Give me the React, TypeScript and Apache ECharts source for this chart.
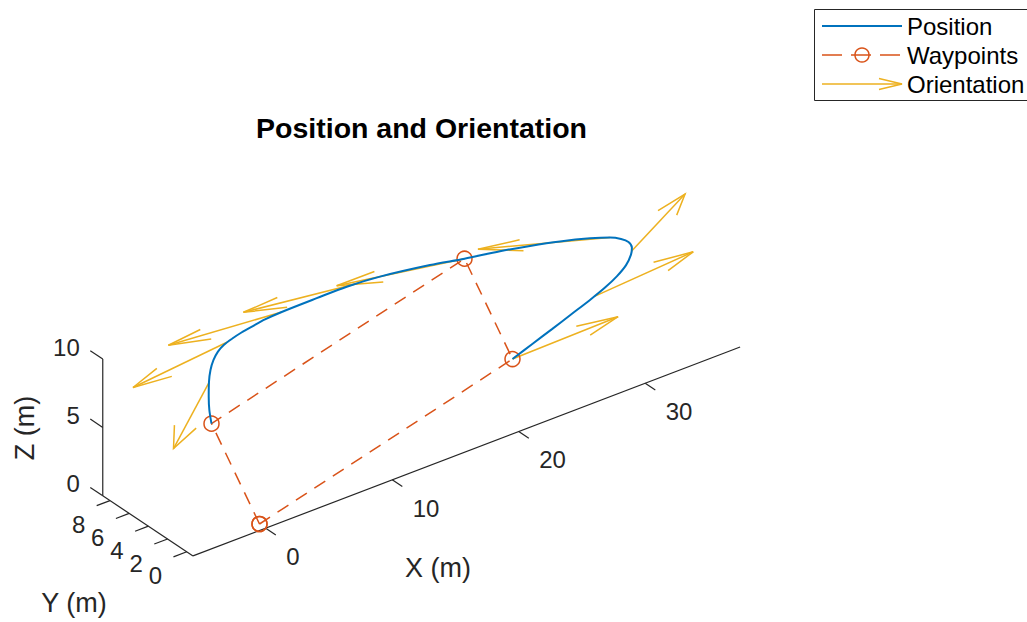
import React, { useEffect, useRef } from "react";
import * as echarts from "echarts";

// ---------- data ----------
const TITLE = "Position and Orientation";
const X_LABEL = "X (m)";
const Y_LABEL = "Y (m)";
const Z_LABEL = "Z (m)";
const LEGEND_NAMES = ["Position", "Waypoints", "Orientation"];

const X_TICKS = [0, 10, 20, 30];
const Y_TICKS = [0, 2, 4, 6, 8];
const Z_TICKS = [0, 5, 10];
const X_LIM = [-5.75, 37.5];
const Y_LIM = [-0.65, 8.75];
const Z_LIM = [0, 10];

// waypoints (x, y, z), drawn as a closed dashed loop
const WAYPOINTS = [
  [0, 0, 0],
  [0, 5, 5],
  [20, 5, 10],
  [20, 0, 5],
  [0, 0, 0],
];

// sampled trajectory (x, y, z)
const POSITION = [
  [0, 5, 5],
  [-0.17, 5, 6.06],
  [-0.22, 5, 7.05],
  [-0.2, 5, 8.12],
  [-0.08, 5, 8.95],
  [0.16, 5, 9.6],
  [0.51, 5, 10.09],
  [0.99, 5, 10.42],
  [1.62, 5, 10.64],
  [2.37, 5, 10.83],
  [3.2, 5, 10.97],
  [4.23, 5, 11.13],
  [5.55, 5, 11.21],
  [8.32, 5, 11.24],
  [10.69, 5, 11.24],
  [13.32, 5, 11.05],
  [17.27, 5, 10.5],
  [20, 5, 10],
  [22.58, 4.71, 9.77],
  [24.73, 4.41, 9.54],
  [26.88, 4.12, 9.24],
  [29.03, 3.82, 8.85],
  [30.39, 3.53, 8.57],
  [31.04, 3.24, 8.37],
  [31.4, 2.94, 8.16],
  [31.45, 2.65, 7.86],
  [31.15, 2.35, 7.6],
  [30.54, 2.06, 7.18],
  [29.6, 1.76, 6.85],
  [28.43, 1.47, 6.56],
  [27.02, 1.18, 6.29],
  [25.37, 0.88, 6.0],
  [23.57, 0.59, 5.65],
  [21.76, 0.29, 5.33],
  [20, 0, 5],
];

// orientation arrows: base point and direction (x, y, z)
const ORIENT_BASE = [
  [-0.18, 5, 8.1],
  [1.3, 5, 10.53],
  [5.55, 5, 11.21],
  [11.82, 5, 11.15],
  [20, 5, 10],
  [30.39, 3.53, 8.57],
  [31.3, 2.5, 7.73],
  [27.51, 1.3, 6.34],
  [20, 0, 5],
];
const ORIENT_DIR = [
  [-6.8, -5.24, 0],
  [-8.22, -0.94, 0],
  [-8.21, 0.99, 0],
  [-8.16, 1.5, 0],
  [-8.46, 2.17, 0],
  [-7.52, 3.85, 0],
  [7.0, 3.64, 0],
  [8.28, 0.68, 0],
  [8.5, 0.2, 0],
];

// ---------- view (orthographic projection of the 3-D axes) ----------
const ORIGIN = [259.5, 524];
const UX = [12.65, -4.83];
const UY = [-9.6, -6.4];
const UZ = [0, -13.67];
const proj = (p: number[]) => [
  ORIGIN[0] + p[0] * UX[0] + p[1] * UY[0] + p[2] * UZ[0],
  ORIGIN[1] + p[0] * UX[1] + p[1] * UY[1] + p[2] * UZ[1],
];

const HEAD_ALPHA = 0.33;
const HEAD_BETA = 0.25;

const FONT = "'Liberation Sans', Arial, Helvetica, sans-serif";
const AX_COLOR = "#262626";
const C_POS = "#0072BD";
const C_WP = "#D95319";
const C_OR = "#EDB120";

export default function App() {
  const ref = useRef<HTMLDivElement>(null);

  useEffect(() => {
    document.body.style.margin = "0";
    const chart = echarts.init(ref.current!, null, {
      renderer: "svg",
      width: 1027,
      height: 622,
    });

    const axisSegments = [
      [[X_LIM[0], Y_LIM[0], Z_LIM[0]], [X_LIM[1], Y_LIM[0], Z_LIM[0]]],
      [[X_LIM[0], Y_LIM[0], Z_LIM[0]], [X_LIM[0], Y_LIM[1], Z_LIM[0]]],
      [[X_LIM[0], Y_LIM[1], Z_LIM[0]], [X_LIM[0], Y_LIM[1], Z_LIM[1]]],
    ];

    const tickData: number[][] = [
      ...X_TICKS.map((v) => [0, v]),
      ...Y_TICKS.map((v) => [1, v]),
      ...Z_TICKS.map((v) => [2, v]),
    ];

    const textStyle = (extra: any) => ({
      fill: AX_COLOR,
      fontFamily: FONT,
      fontSize: 24,
      ...extra,
    });

    const option: any = {
      animation: false,
      backgroundColor: "#ffffff",
      grid: { left: 0, top: 0, right: 0, bottom: 0 },
      xAxis: { type: "value", min: 0, max: 1027, show: false },
      yAxis: { type: "value", min: 0, max: 622, inverse: true, show: false },
      series: [
        {
          type: "custom",
          name: "axes",
          silent: true,
          z: 1,
          data: [[0], [1], [2]],
          renderItem: (params: any, api: any) => {
            const seg = axisSegments[params.dataIndex];
            const a = api.coord(proj(seg[0]));
            const b = api.coord(proj(seg[1]));
            return {
              type: "line",
              shape: { x1: a[0], y1: a[1], x2: b[0], y2: b[1] },
              style: { stroke: AX_COLOR, lineWidth: 1.2 },
            };
          },
        },
        {
          type: "custom",
          name: "ticks",
          silent: true,
          z: 1,
          data: tickData,
          renderItem: (params: any, api: any) => {
            const axis = api.value(0);
            const v = api.value(1);
            let p: number[], q: number[], dx: number, dy: number, align: string;
            if (axis === 0) {
              p = [v, Y_LIM[0], Z_LIM[0]];
              q = [v, Y_LIM[0] - 1.05, Z_LIM[0]];
              dx = 20.5; dy = 28.4; align = "left";
            } else if (axis === 1) {
              p = [X_LIM[0], v, Z_LIM[0]];
              q = [X_LIM[0] - 1.05, v, Z_LIM[0]];
              dx = -31.4; dy = 24.1; align = "center";
            } else {
              p = [X_LIM[0], Y_LIM[1], v];
              q = [X_LIM[0], Y_LIM[1] + 1.3, v];
              dx = -23; dy = -12; align = "right";
            }
            const a = api.coord(proj(p));
            const b = api.coord(proj(q));
            return {
              type: "group",
              children: [
                {
                  type: "line",
                  shape: { x1: a[0], y1: a[1], x2: b[0], y2: b[1] },
                  style: { stroke: AX_COLOR, lineWidth: 1.2 },
                },
                {
                  type: "text",
                  x: a[0] + dx,
                  y: a[1] + dy,
                  style: textStyle({
                    text: String(v),
                    align,
                    verticalAlign: "middle",
                  }),
                },
              ],
            };
          },
        },
        {
          type: "custom",
          name: LEGEND_NAMES[2],
          silent: true,
          z: 2,
          data: ORIENT_BASE.map((b, i) => [...b, ...ORIENT_DIR[i]]),
          renderItem: (params: any, api: any) => {
            const b = [api.value(0), api.value(1), api.value(2)];
            const d = [api.value(3), api.value(4), api.value(5)];
            const tip = [b[0] + d[0], b[1] + d[1], b[2] + d[2]];
            const h1 = [
              tip[0] - HEAD_ALPHA * (d[0] + HEAD_BETA * d[1]),
              tip[1] - HEAD_ALPHA * (d[1] - HEAD_BETA * d[0]),
              tip[2] - HEAD_ALPHA * d[2],
            ];
            const h2 = [
              tip[0] - HEAD_ALPHA * (d[0] - HEAD_BETA * d[1]),
              tip[1] - HEAD_ALPHA * (d[1] + HEAD_BETA * d[0]),
              tip[2] - HEAD_ALPHA * d[2],
            ];
            const c = (p: number[]) => api.coord(proj(p));
            const st = { stroke: C_OR, lineWidth: 1.5, fill: null };
            return {
              type: "group",
              children: [
                { type: "polyline", shape: { points: [c(b), c(tip)] }, style: st },
                { type: "polyline", shape: { points: [c(h1), c(tip), c(h2)] }, style: st },
              ],
            };
          },
        },
        {
          type: "line",
          name: LEGEND_NAMES[1],
          silent: true,
          z: 3,
          data: WAYPOINTS.map(proj),
          symbol: "circle",
          symbolSize: 15,
          showSymbol: true,
          itemStyle: { color: "rgba(0,0,0,0)", borderColor: C_WP, borderWidth: 1.5 },
          lineStyle: { color: C_WP, width: 1.5, type: [13, 9] },
        },
        {
          type: "line",
          name: LEGEND_NAMES[0],
          silent: true,
          z: 4,
          data: POSITION.map(proj),
          symbol: "none",
          smooth: 0.3,
          lineStyle: { color: C_POS, width: 2 },
        },
      ],
      graphic: [
        {
          type: "text",
          x: 421.5,
          y: 128,
          style: {
            text: TITLE,
            fill: "#000",
            fontFamily: FONT,
            fontSize: 28.5,
            fontWeight: "bold",
            align: "center",
            verticalAlign: "middle",
          },
        },
        {
          type: "text",
          x: 438,
          y: 568,
          style: textStyle({ text: X_LABEL, fontSize: 27, align: "center", verticalAlign: "middle" }),
        },
        {
          type: "text",
          x: 74,
          y: 603,
          style: textStyle({ text: Y_LABEL, fontSize: 27, align: "center", verticalAlign: "middle" }),
        },
        {
          type: "text",
          x: 25,
          y: 428,
          rotation: Math.PI / 2,
          style: textStyle({ text: Z_LABEL, fontSize: 27, align: "center", verticalAlign: "middle" }),
        },
        // legend
        {
          type: "rect",
          shape: { x: 814.5, y: 9.5, width: 240, height: 91 },
          style: { fill: "#fff", stroke: AX_COLOR, lineWidth: 1 },
          z: 10,
        },
        {
          type: "line",
          shape: { x1: 822, y1: 26, x2: 902, y2: 26 },
          style: { stroke: C_POS, lineWidth: 2 },
          z: 11,
        },
        {
          type: "line",
          shape: { x1: 822, y1: 55, x2: 902, y2: 55 },
          style: { stroke: C_WP, lineWidth: 1.5, lineDash: [20, 9] },
          z: 11,
        },
        {
          type: "circle",
          shape: { cx: 862, cy: 55, r: 7 },
          style: { fill: null, stroke: C_WP, lineWidth: 1.5 },
          z: 11,
        },
        {
          type: "line",
          shape: { x1: 822, y1: 84, x2: 902, y2: 84 },
          style: { stroke: C_OR, lineWidth: 1.5 },
          z: 11,
        },
        {
          type: "polyline",
          shape: { points: [[879, 78.5], [902, 84], [879, 89.5]] },
          style: { stroke: C_OR, lineWidth: 1.5, fill: null },
          z: 11,
        },
        ...LEGEND_NAMES.map((n, i) => ({
          type: "text",
          x: 907,
          y: 26 + i * 29,
          z: 11,
          style: textStyle({ text: n, fill: "#000", align: "left", verticalAlign: "middle" }),
        })),
      ],
    };

    chart.setOption(option);
    return () => chart.dispose();
  }, []);

  return <div ref={ref} style={{ width: 1027, height: 622 }} />;
}
